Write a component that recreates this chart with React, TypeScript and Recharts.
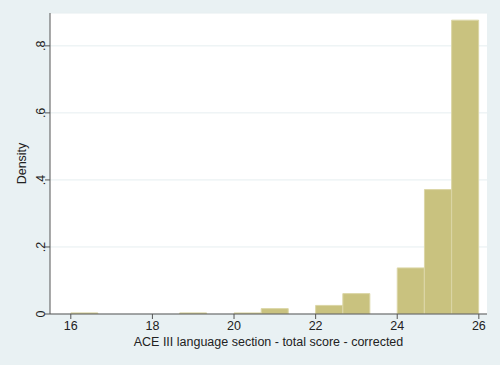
import React from "react";
import { ComposedChart, Bar, XAxis, YAxis, CartesianGrid, Label } from "recharts";

// histogram bins (width 2/3), left edges and density
const binEdges = [16, 16.667, 17.333, 18, 18.667, 19.333, 20, 20.667, 21.333, 22, 22.667, 23.333, 24, 24.667, 25.333, 26];
const density = [0.0032, 0, 0, 0, 0.0032, 0, 0.0032, 0.016, 0, 0.0256, 0.0608, 0, 0.1375, 0.3712, 0.8766];

const xTicks = [16, 18, 20, 22, 24, 26];
const yTicks = [0, 0.2, 0.4, 0.6, 0.8];

const data = density.map((d, i) => ({
  mid: (binEdges[i] + binEdges[i + 1]) / 2,
  density: d,
}));

const FONT = "'Liberation Sans', Arial, sans-serif";
const BG = "#e9f1f3";
const TEXT = "#222";

const fmtY = (v: number) => (v === 0 ? "0" : String(v).replace(/^0/, ""));

const YTick = (props: any) => {
  const { x, y, payload } = props;
  const tx = x + 2;
  return (
    <text x={tx} y={y} transform={`rotate(-90, ${tx}, ${y})`} textAnchor="middle"
      fontSize={12.5} fontFamily={FONT} fill={TEXT}>
      {fmtY(payload.value)}
    </text>
  );
};

export default function App() {
  return (
    <div style={{ position: "fixed", left: 0, top: 0, width: 500, height: 365, background: BG }}>
      <ComposedChart width={500} height={365} data={data} barCategoryGap={0} barGap={0}
        margin={{ top: 13, right: 13, bottom: 0, left: 0 }}>
        <CartesianGrid vertical={false} stroke="#e6eef0" fill="#ffffff" />
        <XAxis dataKey="mid" type="number" domain={[15.49, 26.2]} ticks={xTicks} height={51}
          stroke="#555" tickSize={5} tickLine={{ stroke: "#555" }}
          tick={{ fontSize: 12.5, fontFamily: FONT, fill: TEXT }} allowDataOverflow>
          <Label value="ACE III language section - total score - corrected" position="insideBottom"
            offset={19} fontSize={12.5} fontFamily={FONT} fill={TEXT} />
        </XAxis>
        <YAxis type="number" domain={[0, 0.898]} ticks={yTicks} width={50} stroke="#555"
          tickSize={5} tick={<YTick />} allowDataOverflow>
          <Label content={(p: any) => {
            const vb = p.viewBox;
            const cx = 26;
            const cy = vb.y + vb.height / 2;
            return (
              <text x={cx} y={cy} transform={`rotate(-90, ${cx}, ${cy})`} textAnchor="middle"
                fontSize={12.5} fontFamily={FONT} fill={TEXT}>Density</text>
            );
          }} />
        </YAxis>
        <Bar dataKey="density" fill="#c9c27f" stroke="#dbd6a6" strokeWidth={1} isAnimationActive={false} />
      </ComposedChart>
    </div>
  );
}
